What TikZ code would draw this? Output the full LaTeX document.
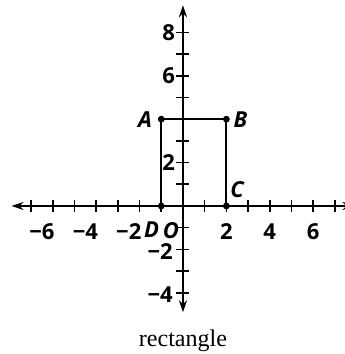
\documentclass[tikz,border=0pt]{standalone}
\usepackage{fontspec}
\setmainfont{Liberation Serif}
\newfontfamily\axisfont{Open Sans}
\usetikzlibrary{arrows.meta}
\tikzset{
  ax_line/.style={line width=1.1pt,{Stealth[length=6pt,width=4pt]}-{Stealth[length=6pt,width=4pt]}},
  ax_tick/.style={line width=0.8pt},
  ax_lbl/.style={font=\axisfont\bfseries\fontsize{11}{13}\selectfont,inner sep=0pt},
  pt_lbl/.style={font=\axisfont\bfseries\itshape\fontsize{11}{13}\selectfont,inner sep=0pt},
  rect_side/.style={line width=1.1pt},
  pt_dot/.style={circle,fill=black,minimum size=3.4pt,inner sep=0pt},
}
\begin{document}
\begin{tikzpicture}[x=0.381cm,y=0.381cm]
\useasboundingbox (-8.43,-6.82) rectangle (7.42,9.49);
% axes
\coordinate (xl) at (-7.9,0);\coordinate (xr) at (7.9,0);
\coordinate (yb) at (0,-4.9);\coordinate (yt) at (0,9.25);
\draw[ax_line](xl)--(xr);
\draw[ax_line](yb)--(yt);
\foreach \x in {-7,...,-1,1,2,...,7}{\draw[ax_tick](\x,-0.28)--(\x,0.28);}
\foreach \y in {-4,...,-1,1,2,...,8}{\draw[ax_tick](-0.3,\y)--(0.3,\y);}
% tick labels
\foreach \x/\n in {-6/6,-4/4,-2/2}{\node[ax_lbl,anchor=east] (lxm\n) at (\x+0.1,-1.2){\textminus\n};}
\foreach \x in {2,4,6}{\node[ax_lbl] (lx\x) at (\x,-1.2){\x};}
\foreach \y in {2,6,8}{\node[ax_lbl,anchor=east] (ly\y) at (-0.35,\y){\y};}
\foreach \y/\n in {-2/2,-4/4}{\node[ax_lbl,anchor=east] (lym\n) at (-0.45,\y-0.08){\textminus\n};}
% rectangle
\node[pt_dot] (A) at (-1,4){};
\node[pt_dot] (B) at (2,4){};
\node[pt_dot] (C) at (2,0){};
\node[pt_dot] (D) at (-1,0){};
\draw[rect_side](A.center)--(B.center)--(C.center);
\draw[rect_side](A.center)--(D.center);
\node[pt_lbl] (lA) at (-1.75,4){A};
\node[pt_lbl] (lB) at (2.65,4){B};
\node[pt_lbl] (lC) at (2.5,0.75){C};
\node[pt_lbl] (lD) at (-1.45,-1.1){D};
\node[pt_lbl] (lO) at (-0.55,-1.15){O};
\node[font=\fontsize{12}{14}\selectfont] (cap) at (0,-6.2){rectangle};
\end{tikzpicture}
\end{document}
